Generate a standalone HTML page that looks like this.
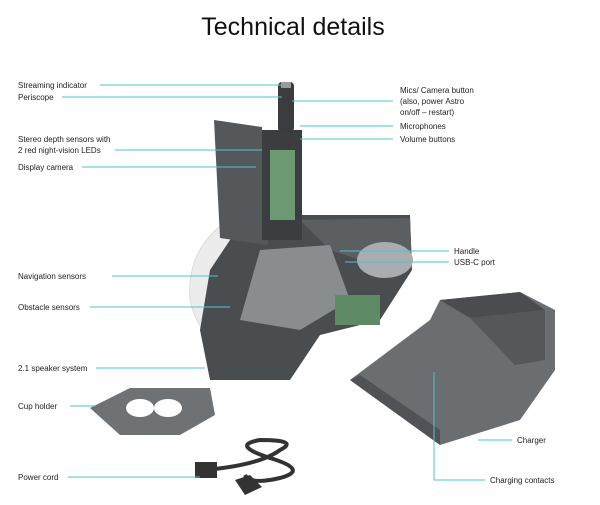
<!DOCTYPE html>
<html><head><style>
body{margin:0;background:#fff;}
svg{display:block;font-family:"Liberation Sans",sans-serif;}
text{font-size:8px;fill:#222;}
.l{stroke:#4fc3d1;stroke-width:1;fill:none;}
</style></head><body>
<svg width="600" height="505" viewBox="0 0 600 505">
<text x="293" y="35" text-anchor="middle" style="font-size:25px;fill:#111">Technical details</text>
<!-- robot base white arc -->
<path d="M245 210 Q185 240 190 300 Q200 345 240 350 L250 330 Q215 300 240 230 Z" fill="#ececec" stroke="#ddd"/>
<!-- body -->
<path d="M240 225 L300 215 L410 215 L412 270 L380 320 L320 335 L290 380 L210 380 L200 330 L210 270 Z" fill="#4a4d50"/>
<path d="M300 220 L410 218 L412 268 L360 260 L330 250 Z" fill="#5c5f62"/>
<path d="M260 250 L330 245 L350 300 L300 330 L240 320 Z" fill="#8a8d8f"/>
<ellipse cx="385" cy="260" rx="28" ry="18" fill="#a9adb0"/>
<rect x="335" y="295" width="45" height="30" fill="#5f8a66"/>
<!-- screen -->
<path d="M214 120 L262 127 L268 245 L220 238 Z" fill="#55585b"/>
<rect x="262" y="130" width="40" height="110" fill="#3b3e41"/>
<rect x="270" y="150" width="25" height="70" fill="#6d9a73"/>
<!-- periscope -->
<rect x="278" y="82" width="16" height="50" rx="4" fill="#3a3c3f"/>
<rect x="281" y="82" width="10" height="6" fill="#999"/>
<!-- charger -->
<path d="M350 380 L430 320 L440 300 L520 292 L555 310 L555 370 L520 420 L440 445 Z" fill="#6b6e71"/>
<path d="M440 300 L520 292 L545 310 L470 318 Z" fill="#4a4c4f"/>
<path d="M470 318 L545 310 L545 360 L515 365 Z" fill="#55575a"/>
<path d="M350 380 L440 445 L440 430 L360 375 Z" fill="#505255"/>
<!-- cup holder -->
<path d="M90 408 L130 388 L210 388 L215 415 L180 435 L120 435 Z" fill="#6f7275"/>
<ellipse cx="140" cy="408" rx="14" ry="9" fill="#fff"/>
<ellipse cx="168" cy="408" rx="14" ry="9" fill="#fff"/>
<!-- cord -->
<path d="M205 470 Q260 465 280 450 Q300 440 260 440 Q230 445 270 458 Q310 470 280 478 Q250 485 245 475" stroke="#333" stroke-width="4" fill="none"/>
<rect x="195" y="462" width="22" height="16" fill="#333"/>
<path d="M235 480 L250 475 L262 487 L245 495 Z" fill="#333"/>
<!-- lines -->
<path class="l" d="M100 85H282M62 97H282M115 150H262M82 167H256M292 101H393M300 126H393M300 139H393M340 251H449M345 262H449M112 276H218M90 307H230M96 368H205M70 406H95M68 477H200M478 440H512M434 372V480H485"/>
<text x="18" y="88">Streaming indicator</text>
<text x="18" y="100">Periscope</text>
<text x="18" y="142">Stereo depth sensors with</text>
<text x="18" y="153">2 red night-vision LEDs</text>
<text x="18" y="170">Display camera</text>
<text x="400" y="93">Mics/ Camera button</text>
<text x="400" y="104">(also, power Astro</text>
<text x="400" y="115">on/off – restart)</text>
<text x="400" y="129">Microphones</text>
<text x="400" y="142">Volume buttons</text>
<text x="454" y="254">Handle</text>
<text x="454" y="265">USB-C port</text>
<text x="18" y="279">Navigation sensors</text>
<text x="18" y="310">Obstacle sensors</text>
<text x="18" y="371">2.1 speaker system</text>
<text x="18" y="409">Cup holder</text>
<text x="18" y="480">Power cord</text>
<text x="517" y="443">Charger</text>
<text x="490" y="483">Charging contacts</text>
</svg>
</body></html>
